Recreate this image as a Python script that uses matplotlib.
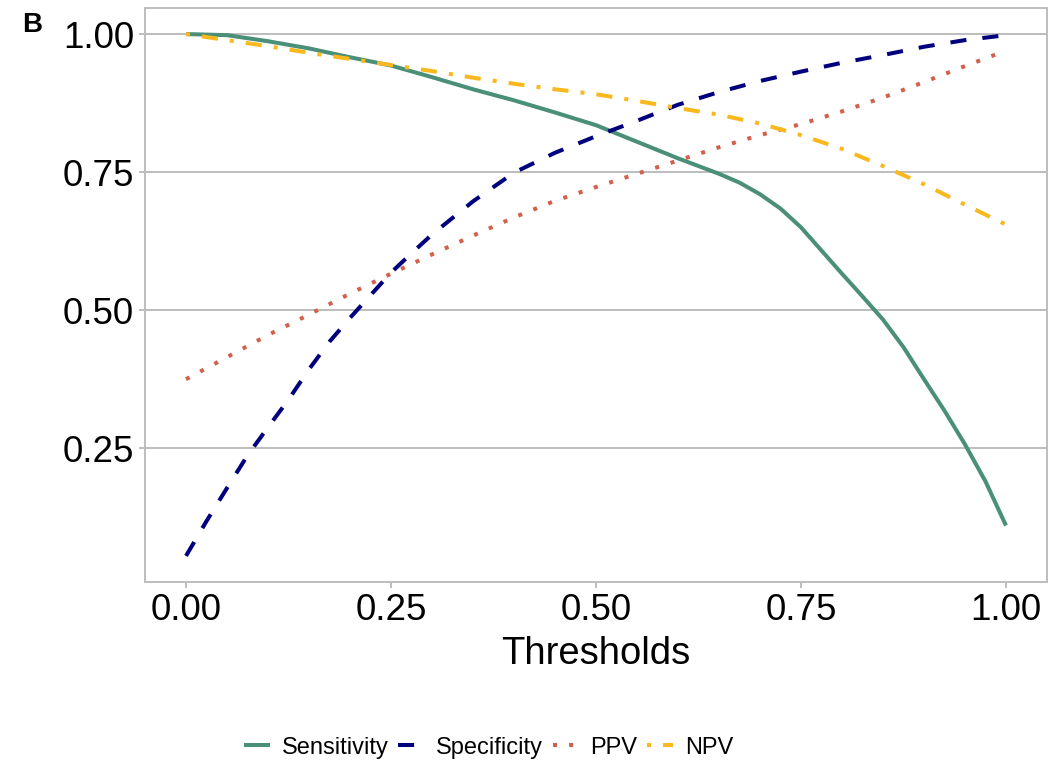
import numpy as np
import matplotlib.pyplot as plt

plt.rcParams['font.family'] = ['Liberation Sans', 'DejaVu Sans']

# values (finer steps where the curves bend most)
sens_x = [0.0, 0.05, 0.1, 0.15, 0.2, 0.25, 0.3, 0.35, 0.4, 0.45, 0.5, 0.55, 0.6,
          0.65, 0.675, 0.7, 0.725, 0.75, 0.775, 0.8, 0.825, 0.85, 0.875, 0.9,
          0.925, 0.95, 0.975, 1.0]
sensitivity = [1.000, 0.998, 0.987, 0.974, 0.958, 0.943, 0.922, 0.900, 0.880, 0.858, 0.835,
               0.805, 0.775, 0.747, 0.731, 0.710, 0.684, 0.650, 0.608, 0.566, 0.525,
               0.483, 0.433, 0.375, 0.318, 0.257, 0.190, 0.110]

spec_x = [0.0, 0.025, 0.05, 0.075, 0.1, 0.125, 0.15, 0.175, 0.2, 0.225, 0.25, 0.275,
          0.3, 0.325, 0.35, 0.4, 0.45, 0.5, 0.55, 0.6, 0.65, 0.7, 0.75, 0.8, 0.85,
          0.9, 0.95, 1.0]
specificity = [0.055, 0.118, 0.178, 0.237, 0.288, 0.338, 0.393, 0.443, 0.486, 0.527, 0.568,
               0.603, 0.637, 0.667, 0.697, 0.749, 0.785, 0.815, 0.843, 0.872, 0.895,
               0.915, 0.932, 0.948, 0.962, 0.977, 0.989, 0.998]

thresholds = [0.0, 0.05, 0.1, 0.15, 0.2, 0.25, 0.3, 0.35, 0.4, 0.45, 0.5,
              0.55, 0.6, 0.65, 0.7, 0.75, 0.8, 0.85, 0.9, 0.95, 1.0]
ppv = [0.375, 0.415, 0.455, 0.492, 0.530, 0.566, 0.601, 0.635, 0.668, 0.698, 0.723,
       0.747, 0.771, 0.795, 0.817, 0.837, 0.860, 0.885, 0.913, 0.942, 0.970]
npv = [1.000, 0.989, 0.978, 0.966, 0.955, 0.944, 0.933, 0.921, 0.910, 0.900, 0.891,
       0.879, 0.866, 0.854, 0.838, 0.817, 0.792, 0.761, 0.728, 0.691, 0.655]

names = ["Sensitivity", "Specificity", "PPV", "NPV"]
colors = ["#4A8F78", "#00007F", "#D2604A", "#F9B81E"]
dashes = [None, (4, 4), (1, 3), (1, 3, 4, 3)]
xs = [sens_x, spec_x, thresholds, thresholds]
series = [sensitivity, specificity, ppv, npv]

fig = plt.figure(figsize=(10.6, 7.66), dpi=100)
ax = fig.add_axes([0.1368, 0.2402, 0.8509, 0.7494])

for name, x, vals, c, d in zip(names, xs, series, colors, dashes):
    line, = ax.plot(x, vals, color=c, lw=2.9, label=name,
                    solid_capstyle='butt', dash_capstyle='butt')
    if d is not None:
        line.set_dashes(d)

ax.set_xticks([0, 0.25, 0.5, 0.75, 1.0])
ax.set_xticklabels(["0.00", "0.25", "0.50", "0.75", "1.00"])
ax.set_yticks([0.25, 0.5, 0.75, 1.0])
ax.set_yticklabels(["0.25", "0.50", "0.75", "1.00"])
ax.tick_params(labelsize=26.5, color="#B3B3B3", length=4, width=1.2, pad=4)
ax.yaxis.grid(True, color="#BDBDBD", lw=1.4)
ax.set_axisbelow(True)
for sp in ax.spines.values():
    sp.set_color("#BDBDBD")
    sp.set_linewidth(1.4)

ax.set_xlabel("Thresholds", fontsize=27.5, labelpad=6)

fig.text(0.021, 0.958, "B", fontsize=20, fontweight='bold', ha='left', va='baseline')

fig.legend(loc='center', bbox_to_anchor=(0.461, 0.024), ncol=4, frameon=False,
           fontsize=17, handlelength=1.1, handletextpad=0.5, columnspacing=0.4)

fig.savefig("out.png", dpi=100)
